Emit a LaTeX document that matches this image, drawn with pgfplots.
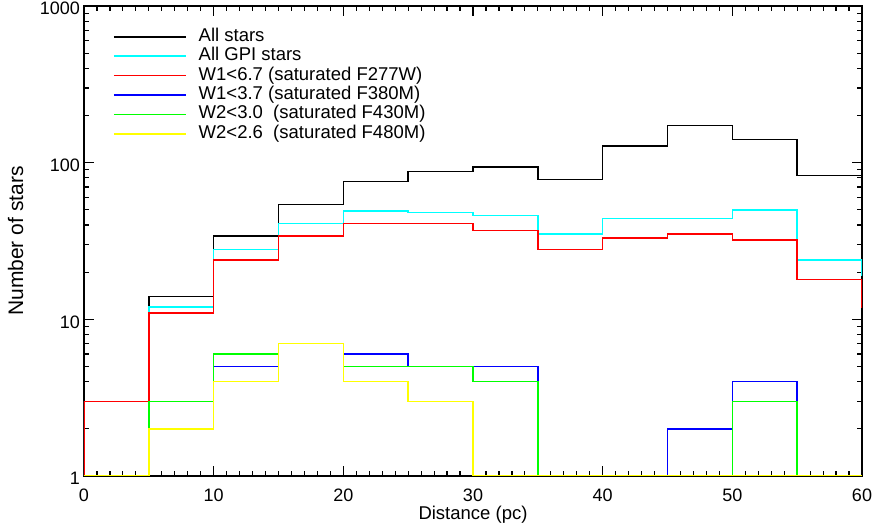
\documentclass[border=0pt]{standalone}
\usepackage{fontspec}
\setmainfont{Liberation Sans}
\usepackage{pgfplots}
\pgfplotsset{compat=1.18}
\definecolor{cBlack}{RGB}{0,0,0}
\definecolor{cCyan}{RGB}{0,255,255}
\definecolor{cRed}{RGB}{255,0,0}
\definecolor{cBlue}{RGB}{0,0,255}
\definecolor{cGreen}{RGB}{0,255,0}
\definecolor{cYellow}{RGB}{255,255,0}
\begin{document}
\begin{tikzpicture}
\begin{axis}[
  name=ax,
  scale only axis,
  width=778pt, height=470pt,
  xmin=0, xmax=60,
  ymode=log, ymin=1, ymax=1000,
  xtick={0,10,...,60},
  minor x tick num=9,
  ytick={1,10,100,1000},
  yticklabels={1,10,100,1000},
  tick align=inside,
  tick pos=both,
  major tick length=10pt,
  minor tick length=5pt,
  tick style={black, line width=1.2pt},
  axis line style={line width=1.2pt},
  /pgf/number format/assume math mode=true,
  ticklabel style={font=\fontsize{18}{20}\selectfont},
  xticklabel style={anchor=base, inner sep=0pt, yshift=-25pt},
  yticklabel style={anchor=east, inner sep=0pt, xshift=-4pt, yshift=-2.5pt},
  xlabel={\fontsize{18.5}{20}\selectfont Distance (pc)},
  ylabel={\fontsize{21}{23}\selectfont Number of stars},
  xlabel style={inner sep=0pt, at={(axis description cs:0.5,-0.0936)}, anchor=base},
  ylabel style={inner sep=0pt, at={(axis description cs:-0.0784,0.5)}, anchor=base},
  const plot mark left,
  every axis plot/.append style={line width=1.5pt, no marks},
  legend style={draw=none, fill=none, inner sep=0pt,
    at={(axis description cs:0.0373,0.953)}, anchor=north west,
    font=\fontsize{18.5}{20}\selectfont, row sep=2.4pt,
    nodes={inner sep=0pt, text height=13pt, text depth=4pt}},
  legend cell align=left,
  legend image code/.code={\draw[line width=1.5pt, #1] (0pt,0pt) -- (72pt,0pt); \path (84pt,0pt);},
]
% All stars
\addplot[cBlack] coordinates {(0,1) (0,3) (5,14) (10,34) (15,54) (20,76) (25,88) (30,94) (35,78) (40,128) (45,173) (50,141) (55,83) (60,83) (65,83)};
\addlegendentry{All stars}
% All GPI stars
\addplot[cCyan] coordinates {(0,1) (0,3) (5,12) (10,28) (15,41) (20,49) (25,48) (30,46) (35,35) (40,44) (45,44) (50,50) (55,24) (60,19) (65,19)};
\addlegendentry{All GPI stars}
% W1<6.7
\addplot[cRed] coordinates {(0,1) (0,3) (5,11) (10,24) (15,34) (20,41) (25,41) (30,37) (35,28) (40,33) (45,35) (50,32) (55,18) (60,12) (65,12)};
\addlegendentry{W1<6.7 (saturated F277W)}
% W1<3.7
\addplot[cBlue] coordinates {(0,1) (5,3) (10,5) (15,7) (20,6) (25,5) (30,5) (35,1) (40,1) (45,2) (50,4) (55,1) (60,1)};
\addlegendentry{W1<3.7 (saturated F380M)}
% W2<3.0
\addplot[cGreen] coordinates {(0,1) (5,3) (10,6) (15,7) (20,5) (25,5) (30,4) (35,1) (40,1) (45,1) (50,3) (55,1) (60,1)};
\addlegendentry{W2<3.0\ \ (saturated F430M)}
% W2<2.6
\addplot[cYellow] coordinates {(0,1) (5,2) (10,4) (15,7) (20,4) (25,3) (30,1) (35,1) (40,1) (45,1) (50,1) (55,1) (60,1)};
\addlegendentry{W2<2.6\ \ (saturated F480M)}
\end{axis}
\pgfresetboundingbox
\path ([shift={(-84pt,-51pt)}]ax.south west) rectangle ([shift={(13pt,6pt)}]ax.north east);
\end{tikzpicture}
\end{document}
